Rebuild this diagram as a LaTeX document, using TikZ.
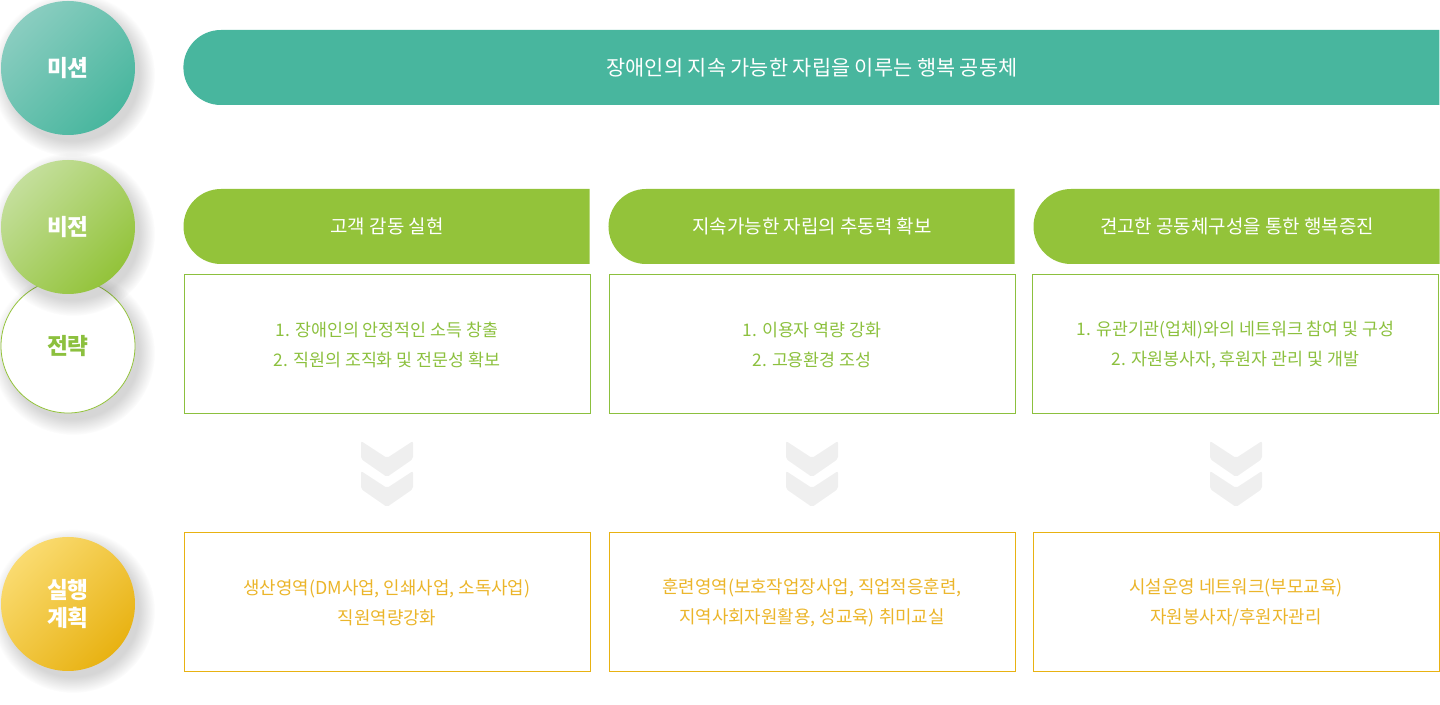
\documentclass[tikz,border=0pt]{standalone}
\usepackage{fontspec}
\setmainfont{Noto Sans CJK KR}
\usetikzlibrary{fadings,shapes.misc}
\definecolor{mteal}{HTML}{48B69E}
\definecolor{mteallt}{HTML}{8ACDC0}
\definecolor{vgreen}{HTML}{93C33A}
\definecolor{vgreenlt}{HTML}{C4DF9C}
\definecolor{sgreen}{HTML}{8CC03E}
\definecolor{ayellow}{HTML}{E8B212}
\definecolor{ayellowlt}{HTML}{FADB70}
\definecolor{atext}{HTML}{EBB52A}
\definecolor{chev}{HTML}{EFEFEF}
\tikzset{
  circbase/.style={circle, inner sep=0pt, minimum size=100.5pt, align=center,
    font=\fontsize{17pt}{20.5pt}\selectfont\bfseries, text=white},
  gradcirc/.style 2 args={circbase, top color=#1, bottom color=#2, shading angle=45},
  stratcirc/.style={circbase, fill=white, draw=vgreen, line width=0.6pt, text=sgreen},
  softshadow/.style={fill=black, opacity=0.16, path fading=circle with fuzzy edge 20 percent},
  visionbar/.style={rounded rectangle, rounded rectangle right arc=none, fill=vgreen,
    minimum width=304.5pt, minimum height=56.25pt, inner sep=0pt, text=white,
    font=\fontsize{14.2pt}{16pt}\selectfont},
  stratbox/.style={draw=sgreen, line width=0.75pt, minimum width=304.5pt, minimum height=104.25pt,
    inner sep=0pt, align=center, text=sgreen, font=\fontsize{13pt}{22.5pt}\selectfont},
  actbox/.style={draw=ayellow, line width=0.75pt, minimum width=304.5pt, minimum height=104.25pt,
    inner sep=0pt, align=center, text=atext, font=\fontsize{13.4pt}{22.5pt}\selectfont},
  chevshape/.style={fill=chev, rounded corners=1.5pt}
}
\newcommand{\circshadow}[2]{%
  \fill[softshadow] (#1+5,#2+7) circle (82);}
\newcommand{\dchev}[1]{%
  \begin{scope}[xshift=#1*0.75pt]
    \fill[chevshape] (-26,441) -- (0,458) -- (26,441) -- (26,459) -- (0,477) -- (-26,459) -- cycle;
    \fill[chevshape] (-26,471) -- (0,488) -- (26,471) -- (26,489) -- (0,507) -- (-26,489) -- cycle;
  \end{scope}}
\begin{document}
\begin{tikzpicture}[x=0.75pt,y=-0.75pt]
\useasboundingbox (0,0) rectangle (1440,705);

% mission
\circshadow{68}{68}
\node[gradcirc={mteallt}{mteal}] (mission) at (68,68) {미션};
\node[rounded rectangle, rounded rectangle right arc=none, fill=mteal, minimum width=942pt,
  minimum height=56.25pt, inner sep=0pt, text=white, font=\fontsize{15.6pt}{17pt}\selectfont]
  (mbar) at (812,67.5) {장애인의 지속 가능한 자립을 이루는 행복 공동체};

% strategy circle (behind vision)
\circshadow{68}{346}
\node[stratcirc] (strategy) at (68,346) {전략};
\circshadow{68}{227}
\node[gradcirc={vgreenlt}{vgreen}] (vision) at (68,227) {비전};

% vision bars
\node[visionbar] (v1) at (387,226.5) {고객 감동 실현};
\node[visionbar] (v2) at (812,226.5) {지속가능한 자립의 추동력 확보};
\node[visionbar] (v3) at (1237,226.5) {견고한 공동체구성을 통한 행복증진};

% strategy boxes
\node[stratbox] (s1) at (387,344.5) {1. 장애인의 안정적인 소득 창출\\2. 직원의 조직화 및 전문성 확보};
\node[stratbox] (s2) at (812,344.5) {1. 이용자 역량 강화\\2. 고용환경 조성};
\node[stratbox] (s3) at (1235.5,344.5) {1. 유관기관(업체)와의 네트워크 참여 및 구성\\2. 자원봉사자, 후원자 관리 및 개발};

% chevrons
\dchev{387}
\dchev{812}
\dchev{1236}

% action plan
\circshadow{68}{604}
\node[gradcirc={ayellowlt}{ayellow}] (action) at (68,604) {실행\\계획};
\node[actbox] (a1) at (387,602.5) {생산영역(DM사업, 인쇄사업, 소독사업)\\직원역량강화};
\node[actbox] (a2) at (812,602.5) {훈련영역(보호작업장사업, 직업적응훈련,\\지역사회자원활용, 성교육) 취미교실};
\node[actbox] (a3) at (1236,602.5) {시설운영 네트워크(부모교육)\\자원봉사자/후원자관리};
\end{tikzpicture}
\end{document}
